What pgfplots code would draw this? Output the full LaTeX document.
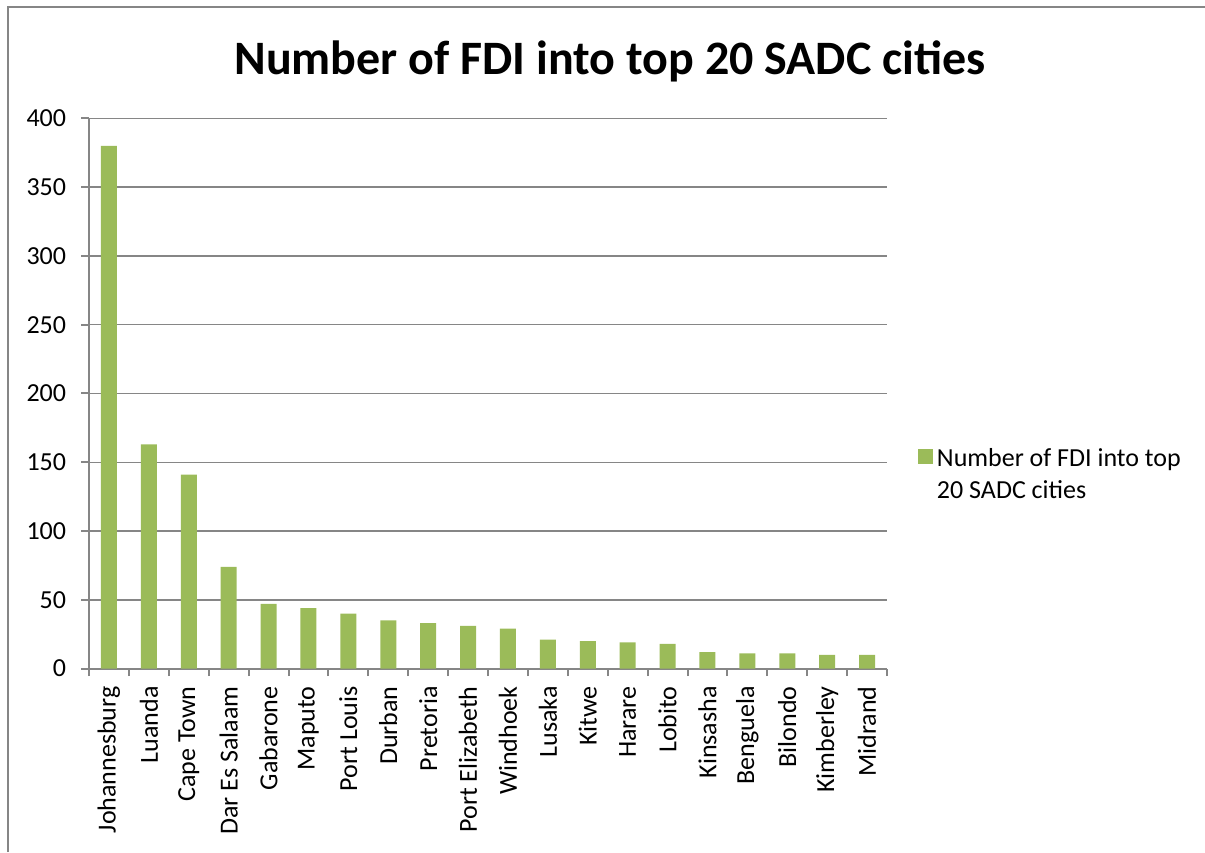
\documentclass[border=0pt]{standalone}
\usepackage{fontspec}
\setmainfont{Carlito}
\usepackage{pgfplots}
\pgfplotsset{compat=1.18}
\definecolor{bargreen}{HTML}{9BBB59}
\definecolor{axgray}{HTML}{868686}
\begin{document}
\begin{tikzpicture}
\useasboundingbox (0,0) rectangle (602.5pt,426pt);
\draw[axgray, line width=1pt] (3.75pt,0pt) -- (3.75pt,422.25pt) -- (602.5pt,422.25pt);
\node[font=\fontsize{24}{29}\selectfont\bfseries, anchor=base, inner sep=0pt] at (305pt,388.5pt) {Number of FDI into top 20 SADC cities};
\begin{axis}[
  at={(44.5pt,91.75pt)}, anchor=south west,
  width=399pt, height=275pt, scale only axis,
  xmin=-0.5, xmax=19.5, ymin=0, ymax=400,
  ytick={0,50,...,400},
  xtick={-0.5,0.5,...,19.5},
  x tick label as interval,
  xticklabels={Johannesburg,Luanda,Cape Town,Dar Es Salaam,Gabarone,Maputo,Port Louis,Durban,Pretoria,Port Elizabeth,Windhoek,Lusaka,Kitwe,Harare,Lobito,Kinsasha,Benguela,Bilondo,Kimberley,Midrand},
  ymajorgrids,
  grid style={axgray, line width=0.75pt},
  axis x line*=bottom, axis y line*=left,
  axis line style={axgray, line width=1pt, -},
  tick align=outside,
  major tick length=3.75pt,
  tick style={axgray, line width=1pt},
  /pgf/number format/assume math mode=true,
  tick label style={font=\fontsize{13}{15.6}\selectfont, text=black},
  yticklabel style={anchor=east, inner sep=0pt, xshift=-7.5pt},
  xticklabel style={yshift=-5pt, rotate=90, anchor=east, inner sep=0pt},
  legend style={draw=none, fill=none, at={(1.0388,0.407)}, anchor=north west,
    inner sep=0pt, outer sep=0pt, font=\fontsize{13}{16}\selectfont,
    cells={anchor=west, align=left},
    /tikz/every even column/.append style={column sep=3.5pt}},
  legend image code/.code={\fill[bargreen] (0pt,5.75pt) rectangle (7.5pt,13.25pt);},
]
\addplot[ybar, bar width=8pt, fill=bargreen, draw=none] coordinates {
(0,380) (1,163) (2,141) (3,74) (4,47) (5,44) (6,40) (7,35) (8,33) (9,31)
(10,29) (11,21) (12,20) (13,19) (14,18) (15,12) (16,11) (17,11) (18,10) (19,10)};
\addlegendentry{Number of FDI into top\\20 SADC cities}
\end{axis}
\end{tikzpicture}
\end{document}
